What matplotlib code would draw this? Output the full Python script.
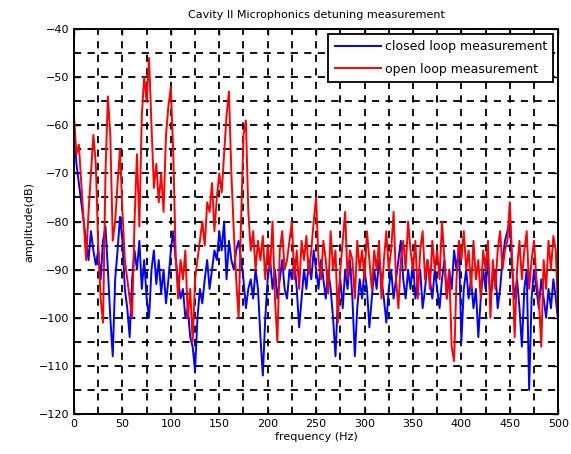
import numpy as np
import matplotlib
matplotlib.use('Agg')
import matplotlib.pyplot as plt
from matplotlib.ticker import MultipleLocator

# frequency axis, 2.5 Hz step
freq = np.arange(0, 500.1, 2.5)

# closed loop measurement (dB)
closed_loop = [
    -60, -68, -72, -76, -80, -84, -88, -82, -86, -89,
    -86, -92, -84, -81, -90, -100, -108, -92, -86, -79,
    -84, -94, -98, -104, -92, -86, -90, -84, -94, -88,
    -96, -100, -90, -86, -93, -88, -95, -90, -97, -92,
    -86, -82, -88, -92, -96, -94, -100, -98, -104, -106,
    -111, -100, -94, -97, -92, -88, -94, -90, -86, -88,
    -82, -86, -80, -92, -84, -88, -90, -86, -84, -88,
    -92, -98, -94, -92, -96, -90, -94, -104, -112, -100,
    -92, -88, -94, -90, -96, -92, -88, -94, -96, -90,
    -92, -88, -94, -102, -96, -90, -94, -88, -92, -86,
    -90, -94, -88, -92, -96, -90, -94, -100, -108, -96,
    -92, -98, -90, -94, -88, -96, -108, -98, -92, -96,
    -90, -94, -102, -96, -90, -94, -88, -92, -96, -101,
    -94, -90, -96, -92, -88, -84, -92, -96, -90, -94,
    -88, -96, -92, -90, -98, -94, -88, -92, -96, -90,
    -94, -98, -92, -88, -96, -90, -94, -86, -90, -85,
    -105, -94, -90, -96, -92, -98, -94, -104, -96, -90,
    -94, -88, -96, -92, -90, -98, -94, -88, -84, -82,
    -80, -90, -96, -92, -98, -106, -94, -90, -115, -96,
    -90, -94, -98, -92, -96, -100, -94, -98, -92, -96,
    -101,
]

# open loop measurement (dB)
open_loop = [
    -58, -66, -64, -72, -80, -88, -78, -70, -62, -68,
    -85, -96, -101, -70, -54, -62, -84, -80, -72, -65,
    -78, -88, -92, -96, -100, -80, -66, -81, -58, -50,
    -55, -46, -60, -73, -68, -76, -70, -78, -62, -56,
    -52, -66, -87, -96, -88, -92, -86, -100, -94, -105,
    -92, -88, -84, -80, -85, -76, -78, -72, -82, -75,
    -70, -74, -66, -58, -53, -70, -82, -92, -100, -80,
    -62, -59, -78, -86, -82, -90, -84, -88, -83, -92,
    -85, -90, -80, -96, -105, -86, -82, -90, -88, -84,
    -80, -92, -86, -94, -84, -88, -83, -91, -86, -80,
    -75, -88, -92, -84, -88, -95, -82, -90, -86, -101,
    -90, -84, -78, -92, -86, -88, -96, -84, -90, -86,
    -92, -82, -88, -94, -86, -90, -84, -96, -88, -82,
    -90, -86, -78, -92, -98, -88, -84, -90, -80, -86,
    -90, -84, -96, -86, -82, -92, -88, -94, -84, -90,
    -86, -92, -80, -88, -96, -90, -106, -109, -92, -84,
    -88, -82, -90, -86, -94, -84, -92, -88, -96, -86,
    -90, -84, -100, -88, -94, -86, -82, -90, -86, -84,
    -76, -88, -104, -90, -84, -92, -86, -82, -94, -88,
    -84, -92, -96, -106, -88, -94, -84, -90, -83, -86,
    -101,
]

plt.rcParams['font.family'] = 'DejaVu Sans'

fig = plt.figure(figsize=(5.71, 4.54), dpi=100)
ax = fig.add_axes([0.1296, 0.088, 0.848, 0.848])

ax.plot(freq, closed_loop, color='#0000ff', linewidth=1.4, label='closed loop measurement')
ax.plot(freq, open_loop, color='#ff0000', linewidth=1.4, label='open loop measurement')

ax.set_xlim(0, 500)
ax.set_ylim(-120, -40)
ax.xaxis.set_major_locator(MultipleLocator(50))
ax.xaxis.set_minor_locator(MultipleLocator(25))
ax.yaxis.set_major_locator(MultipleLocator(10))
ax.yaxis.set_minor_locator(MultipleLocator(5))

ax.grid(which='both', color='black', linestyle=(0, (4, 3.5)), linewidth=1.3)
ax.tick_params(which='major', direction='in', length=4, top=True, right=True,
               labelsize=8, width=1.0)
ax.tick_params(which='minor', length=0)
for s in ax.spines.values():
    s.set_linewidth(1.4)

ax.set_title('Cavity II Microphonics detuning measurement', fontsize=8, pad=8)
ax.set_xlabel('frequency (Hz)', fontsize=8, labelpad=2)
ax.set_ylabel('amplitude(dB)', fontsize=8, labelpad=3)

leg = ax.legend(loc='upper right', fontsize=9, fancybox=False, framealpha=1,
                edgecolor='black', handlelength=3.7, handletextpad=0.3,
                borderaxespad=0.4, borderpad=0.5, labelspacing=0.75)
leg.get_frame().set_linewidth(1.3)

plt.savefig('out.png', dpi=100)
plt.close()
